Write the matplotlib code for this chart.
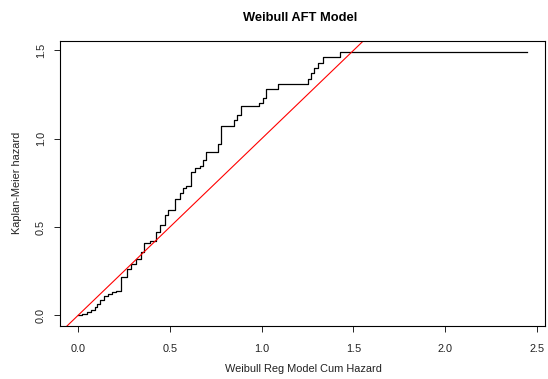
import matplotlib
matplotlib.use("Agg")
import matplotlib.pyplot as plt

# Weibull regression cumulative hazard (x) vs Kaplan-Meier cumulative hazard (y)
weibull_cumhaz = [0.000, 0.023, 0.049, 0.071, 0.092, 0.103, 0.121, 0.143, 0.165,
                  0.186, 0.208, 0.234, 0.269, 0.291, 0.315, 0.341, 0.359, 0.391,
                  0.424, 0.449, 0.473, 0.491, 0.527, 0.554, 0.572, 0.591, 0.618,
                  0.636, 0.663, 0.681, 0.699, 0.763, 0.781, 0.848, 0.864, 0.886,
                  0.985, 1.007, 1.026, 1.089, 1.252, 1.270, 1.288, 1.310, 1.333,
                  1.428, 2.446]
km_cumhaz = [0.000, 0.010, 0.017, 0.032, 0.045, 0.065, 0.085, 0.108, 0.123,
             0.130, 0.141, 0.219, 0.261, 0.293, 0.319, 0.357, 0.410, 0.424,
             0.475, 0.513, 0.570, 0.595, 0.660, 0.692, 0.720, 0.731, 0.813,
             0.833, 0.845, 0.881, 0.928, 0.970, 1.070, 1.108, 1.136, 1.183,
             1.202, 1.230, 1.281, 1.308, 1.338, 1.372, 1.400, 1.428, 1.462,
             1.494, 1.494]

x_ticks = [0.0, 0.5, 1.0, 1.5, 2.0, 2.5]
y_ticks = [0.0, 0.5, 1.0, 1.5]

plt.rcParams['font.family'] = ['Liberation Sans', 'DejaVu Sans']

W, H = 548, 379
fig = plt.figure(figsize=(W / 100, H / 100), dpi=100)
ax = fig.add_axes([60 / W, 1 - 326 / H, (545 - 60) / W, (326 - 41) / H])

ax.step(weibull_cumhaz, km_cumhaz, where='post', color='black', lw=0.9)
ax.axline((0, 0), slope=1, color='red', lw=0.8)

# R style 4% padding
xr = max(weibull_cumhaz) - min(weibull_cumhaz)
yr = max(km_cumhaz) - min(km_cumhaz)
ax.set_xlim(min(weibull_cumhaz) - 0.04 * xr, max(weibull_cumhaz) + 0.04 * xr)
ax.set_ylim(min(km_cumhaz) - 0.04 * yr, max(km_cumhaz) + 0.04 * yr)

ax.set_xticks(x_ticks)
ax.set_yticks(y_ticks)
ax.set_xticklabels([f"{v:.1f}" for v in x_ticks])
ax.set_yticklabels([f"{v:.1f}" for v in y_ticks], rotation=90, va='center')
ax.tick_params(direction='out', length=4, width=0.7, labelsize=7.8,
               colors='#222222')
ax.tick_params(axis='x', pad=9)
ax.tick_params(axis='y', pad=6)
for s in ax.spines.values():
    s.set_linewidth(0.8)

fig.text(300 / W, 1 - 18 / H, "Weibull AFT Model", ha='center', va='center',
         fontsize=9.3, fontweight='bold')
fig.text(303 / W, 1 - 369 / H, "Weibull Reg Model Cum Hazard", ha='center',
         va='center', fontsize=7.9, color='#222222')
fig.text(17 / W, 1 - 183 / H, "Kaplan-Meier hazard", ha='center', va='center',
         rotation=90, fontsize=7.9, color='#222222')

fig.savefig("out.png", dpi=100)
